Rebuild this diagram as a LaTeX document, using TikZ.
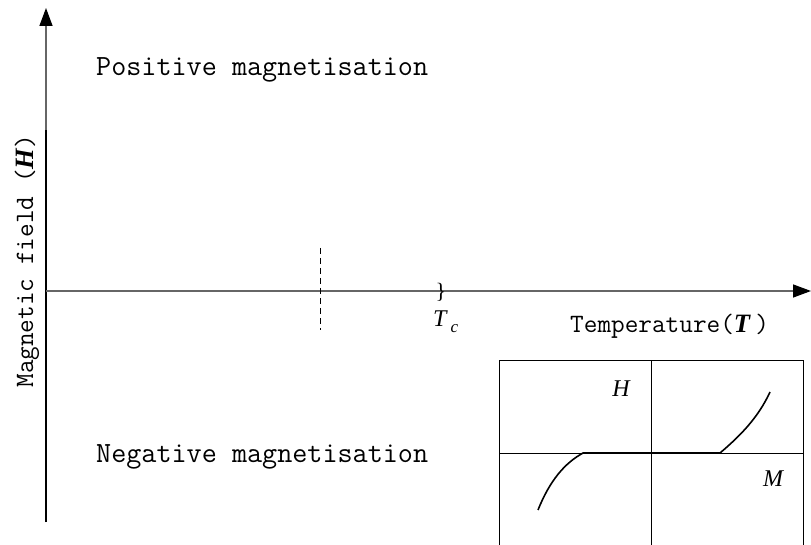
\documentclass[tikz,border=0pt]{standalone}
\usepackage{fontspec}
\setmainfont{Liberation Serif}
\usetikzlibrary{arrows.meta}
\begin{document}
\begin{tikzpicture}[x=1pt,y=-1pt,
  mono/.style={font=\ttfamily\fontsize{29.3}{34}\selectfont, inner sep=0pt, anchor=west},
  monomid/.style={font=\ttfamily\fontsize{26.5}{31}\selectfont, inner sep=0pt, anchor=west},
  monobig/.style={font=\ttfamily\fontsize{26.5}{31}\selectfont, inner sep=0pt},
  axisgrey/.style={draw=black!60, line width=1.4pt},
  axisblack/.style={draw=black, line width=1.4pt},
  tip/.style={-{Triangle[length=18pt,width=13pt,color=black]}},
  thin/.style={draw=black, line width=0.9pt},
  curve/.style={draw=black, line width=1.6pt},
  lab/.style={font=\fontsize{24}{28}\selectfont\itshape, inner sep=0pt}]
\useasboundingbox (0,0) rectangle (811,545);
% axes
\coordinate (o) at (46,291);
\coordinate (ytop) at (46,8);
\coordinate (ybot) at (46,522);
\coordinate (yblk) at (46,130);
\coordinate (xend) at (811,291);
\draw[axisgrey, tip] (ybot) -- (ytop);
\draw[axisblack] (ybot) -- (yblk);
\draw[axisgrey, tip] (o) -- (xend);
% dashed line
\coordinate (d1) at (320,248);
\coordinate (d2) at (320,330);
\draw[thin, dashed, dash pattern=on 6pt off 4pt] (d1) -- (d2);
% labels
\node[mono] (pos) at (96,70) {Positive magnetisation};
\node[mono] (neg) at (96,457) {Negative magnetisation};
\node[monomid] (temp) at (570,326) {Temperature(\textit{\rmfamily\bfseries T}\,)};
\node[monobig, anchor=center, rotate=90] (mag) at (27,261) {Magnetic field (\textit{\rmfamily\bfseries H})};
\node[font=\fontsize{22}{26}\selectfont, inner sep=0pt] (brace) at (441,292) {\}};
\node[lab, anchor=west] (tc) at (433,322) {T\,\raisebox{-6pt}{\fontsize{17}{20}\selectfont c}};
% inset
\coordinate (bl) at (499,545);
\coordinate (tl) at (499,360);
\coordinate (tr) at (803,360);
\coordinate (br) at (803,545);
\coordinate (vt) at (651,360);
\coordinate (vb) at (651,545);
\coordinate (hl) at (499,453);
\coordinate (hr) at (803,453);
\draw[thin] (bl) -- (tl) -- (tr) -- (br);
\draw[thin] (vt) -- (vb);
\draw[thin] (hl) -- (hr);
\node[lab] (H) at (621,389) {H};
\node[lab] (M) at (773,479) {M};
\coordinate (c1) at (538,510);
\coordinate (c2) at (583,453);
\coordinate (c3) at (720,453);
\coordinate (c4) at (770,392);
\draw[curve] (c1) .. controls (550,480) and (565,463) .. (c2) -- (c3) .. controls (740,436) and (758,418) .. (c4);
\end{tikzpicture}
\end{document}
